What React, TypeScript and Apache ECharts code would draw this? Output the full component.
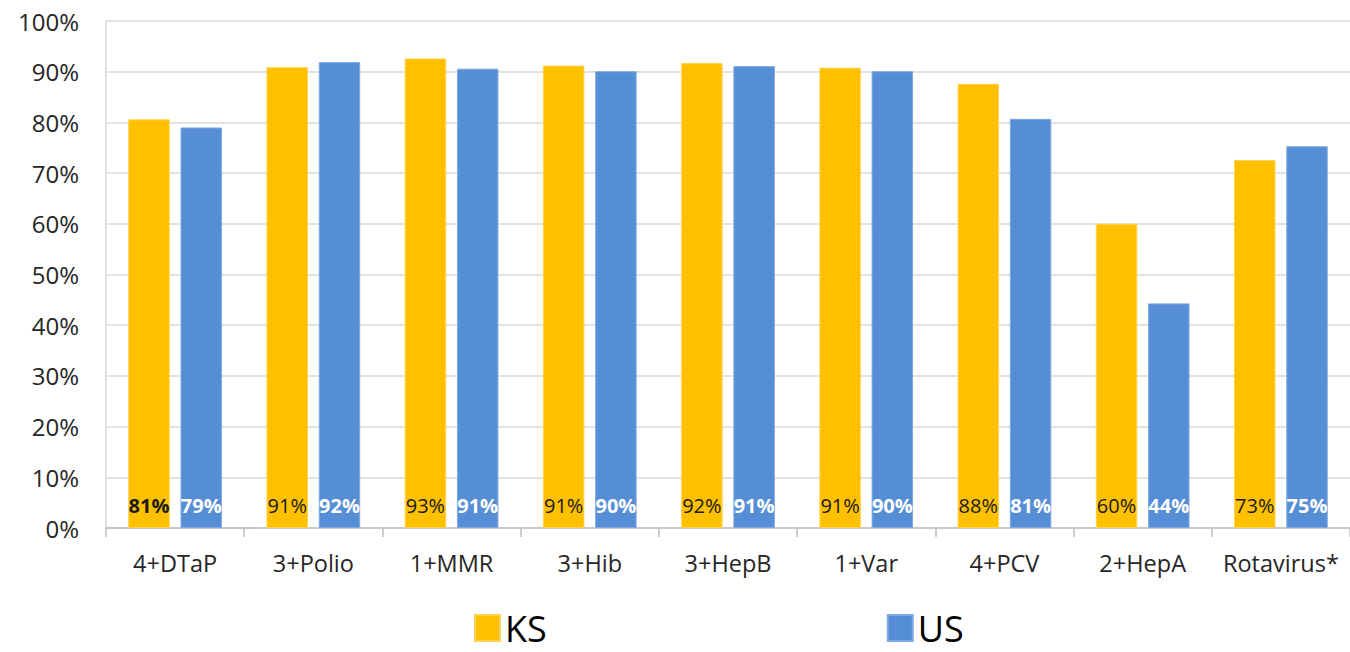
import React, { useEffect, useRef } from "react";
import * as echarts from "echarts";

const categories = ["4+DTaP", "3+Polio", "1+MMR", "3+Hib", "3+HepB", "1+Var", "4+PCV", "2+HepA", "Rotavirus*"];
const ksValues = [80.6, 90.9, 92.6, 91.2, 91.7, 90.8, 87.6, 60.0, 72.6];
const usValues = [79.0, 91.9, 90.6, 90.1, 91.1, 90.1, 80.7, 44.3, 75.3];
const yTicks = [0, 10, 20, 30, 40, 50, 60, 70, 80, 90, 100];

const FONT = "Open Sans";

export default function App() {
  const ref = useRef<HTMLDivElement>(null);
  useEffect(() => {
    const chart = echarts.init(ref.current!, null, { renderer: "svg" });
    const ksData = ksValues.map((v, i) => ({
      value: v,
      label: i === 0 ? { fontWeight: "bold" } : {},
    }));
    chart.setOption({
      animation: false,
      backgroundColor: "#ffffff",
      grid: { left: 106, right: 0, top: 21, bottom: 124 },
      legend: {
        data: ["KS", "US"],
        top: 610,
        left: 474,
        itemWidth: 25,
        itemHeight: 26,
        itemGap: 340,
        icon: "rect",
        textStyle: { fontFamily: FONT, fontSize: 36, lineHeight: 36, color: "#000", padding: [0, 0, 0, 0] },
        padding: 0,
      },
      xAxis: {
        type: "category",
        data: categories,
        axisLine: { lineStyle: { color: "#bfbfbf", width: 1.5 } },
        axisTick: { show: true, length: 9, lineStyle: { color: "#bfbfbf", width: 1.5 } },
        axisLabel: { fontFamily: FONT, fontSize: 23.5, color: "#262626", margin: 23, interval: 0 },
      },
      yAxis: {
        type: "value",
        min: yTicks[0],
        max: yTicks[yTicks.length - 1],
        interval: 10,
        axisLine: { show: true, lineStyle: { color: "#d9d9d9", width: 1.5 } },
        axisTick: { show: false },
        splitLine: { lineStyle: { color: "#d9d9d9", width: 1.5 } },
        axisLabel: {
          fontFamily: FONT,
          fontSize: 24,
          color: "#262626",
          margin: 27,
          formatter: (v: number) => `${v}%`,
        },
      },
      series: [
        {
          name: "KS",
          type: "bar",
          data: ksData,
          barWidth: "30%",
          barGap: "26%",
          itemStyle: { color: "#FFC000", borderColor: "#FFD24D", borderWidth: 1 },
          label: {
            show: true,
            position: "insideBottom",
            distance: 13,
            fontFamily: FONT,
            fontSize: 20,
            color: "#1a1a1a",
            formatter: (p: any) => `${Math.round(p.value)}%`,
          },
        },
        {
          name: "US",
          type: "bar",
          data: usValues,
          barWidth: "30%",
          barGap: "26%",
          itemStyle: { color: "#558ED5", borderColor: "#7FA9E0", borderWidth: 1 },
          label: {
            show: true,
            position: "insideBottom",
            distance: 13,
            fontFamily: FONT,
            fontSize: 20,
            fontWeight: "bold",
            color: "#ffffff",
            formatter: (p: any) => `${Math.round(p.value)}%`,
          },
        },
      ],
    });
    return () => chart.dispose();
  }, []);
  return (
    <div
      ref={ref}
      style={{ position: "absolute", left: 0, top: 0, width: 1350, height: 652 }}
    />
  );
}
